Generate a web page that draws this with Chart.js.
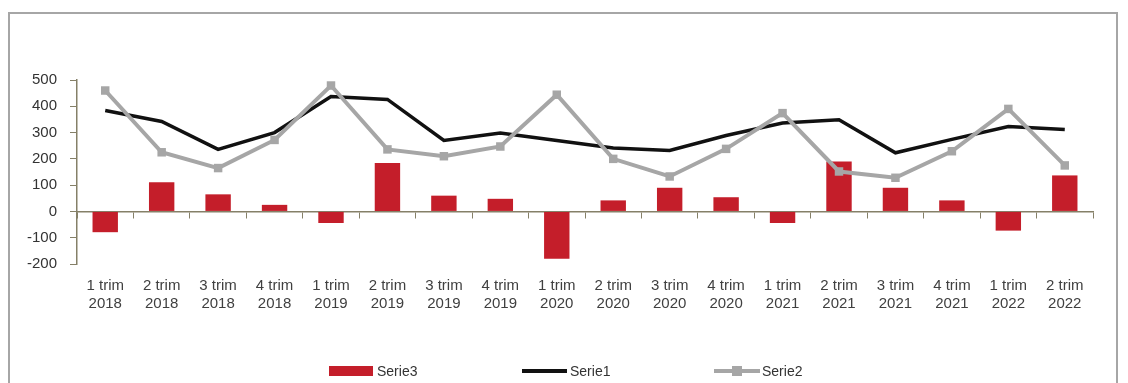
<!DOCTYPE html>
<html>
<head>
<meta charset="utf-8">
<script src="https://cdn.jsdelivr.net/npm/chart.js@4.4.1/dist/chart.umd.min.js"></script>
<style>
  html, body { margin: 0; padding: 0; background: #fff; overflow: hidden; }
  #frame {
    position: absolute; left: 8px; top: 12px;
    width: 1106px; height: 400px;
    border: 2px solid #a6a6a6; border-bottom: none;
  }
  #wrap { position: absolute; left: 0; top: 0; width: 1106px; height: 326px; }
  #legend { position: absolute; left: 0; top: 0; width: 1128px; height: 383px; pointer-events: none; }
  .item { position: absolute; top: 363px; height: 16px; font: 14px 'Liberation Sans', Arial, sans-serif; color: #333; }
  .item span { position: absolute; top: 0; line-height: 16px; white-space: nowrap; }
  .sym { position: absolute; }
</style>
</head>
<body>
<div id="frame"><div id="wrap"><canvas id="chart"></canvas></div></div>
<div id="legend"></div>
<script>
const quarters = ['1 trim', '2 trim', '3 trim', '4 trim', '1 trim', '2 trim', '3 trim', '4 trim', '1 trim',
  '2 trim', '3 trim', '4 trim', '1 trim', '2 trim', '3 trim', '4 trim', '1 trim', '2 trim'];
const years = ['2018', '2018', '2018', '2018', '2019', '2019', '2019', '2019', '2020',
  '2020', '2020', '2020', '2021', '2021', '2021', '2021', '2022', '2022'];

const serie3 = [-79, 111, 65, 25, -44, 184, 60, 48, -180, 42, 90, 54, -44, 190, 90, 42, -73, 137];
const serie1 = [384, 342, 236, 300, 437, 426, 270, 298, 270, 241, 232, 289, 336, 349, 223, 274, 323, 312];
const serie2 = [460, 225, 165, 272, 479, 236, 210, 247, 444, 200, 133, 238, 374, 152, 128, 229, 390, 175];

const yTicks = [500, 400, 300, 200, 100, 0, -100, -200];
const legendNames = ['Serie3', 'Serie1', 'Serie2'];

const labels = quarters.map((q, i) => [q, years[i]]);

const RED = '#c41e2a';
const BLACK = '#111111';
const GRAY = '#a6a6a6';
const AXIS = '#858068';

const ctx = document.getElementById('chart');

new Chart(ctx, {
  data: {
    labels: labels,
    datasets: [
      {
        type: 'bar',
        label: legendNames[0],
        data: serie3,
        backgroundColor: RED,
        barPercentage: 0.45,
        categoryPercentage: 1,
        order: 3
      },
      {
        type: 'line',
        label: legendNames[1],
        data: serie1,
        borderColor: BLACK,
        borderWidth: 3.5,
        pointRadius: 0,
        tension: 0,
        order: 2
      },
      {
        type: 'line',
        label: legendNames[2],
        data: serie2,
        borderColor: GRAY,
        backgroundColor: GRAY,
        borderWidth: 4,
        pointStyle: 'rect',
        pointRadius: 6,
        pointBorderWidth: 0,
        tension: 0,
        order: 1
      }
    ]
  },
  options: {
    responsive: true,
    maintainAspectRatio: false,
    animation: false,
    layout: { padding: { left: 7, right: 23, top: 66, bottom: 0 } },
    plugins: {
      tooltip: { enabled: false },
      legend: { display: false }
    },
    scales: {
      x: {
        type: 'category',
        position: { y: 0 },
        offset: true,
        grid: {
          offset: true,
          drawOnChartArea: false,
          drawTicks: true,
          tickLength: 6,
          color: AXIS
        },
        border: { display: true, color: AXIS, width: 1.5 },
        ticks: { display: false }
      },
      x2: {
        type: 'category',
        position: 'bottom',
        labels: labels,
        offset: true,
        afterFit: (scale) => { scale.height = 76; },
        grid: { display: false, drawTicks: false },
        border: { display: false },
        ticks: {
          color: '#404040',
          padding: 13,
          maxRotation: 0,
          autoSkip: false,
          font: { family: 'Liberation Sans, Arial', size: 15, lineHeight: 1.2 }
        }
      },
      y: {
        min: -200,
        max: 500,
        afterBuildTicks: (scale) => { scale.ticks = yTicks.map(v => ({ value: v })); },
        afterFit: (scale) => { scale.width = 60; },
        grid: {
          drawOnChartArea: false,
          tickLength: 7,
          color: AXIS
        },
        border: { display: true, color: AXIS, width: 1.5 },
        ticks: {
          color: '#333',
          padding: 13,
          autoSkip: false,
          font: { family: 'Liberation Sans, Arial', size: 15 }
        }
      }
    }
  }
});

// legend below the plot
const legendEl = document.getElementById('legend');
const legendX = [329, 522, 714];
legendEl.innerHTML = legendNames.map((name, i) => {
  let sym = '';
  if (i === 0) {
    sym = `<div class="sym" style="left:0;top:3px;width:44px;height:10px;background:${RED}"></div>`;
  } else if (i === 1) {
    sym = `<div class="sym" style="left:0;top:6px;width:45px;height:4px;background:${BLACK}"></div>`;
  } else {
    sym = `<div class="sym" style="left:0;top:6px;width:46px;height:4px;background:${GRAY}"></div>
           <div class="sym" style="left:18px;top:3px;width:10px;height:10px;background:${GRAY}"></div>`;
  }
  return `<div class="item" style="left:${legendX[i]}px">${sym}<span style="left:48px">${name}</span></div>`;
}).join('');
</script>
</body>
</html>
